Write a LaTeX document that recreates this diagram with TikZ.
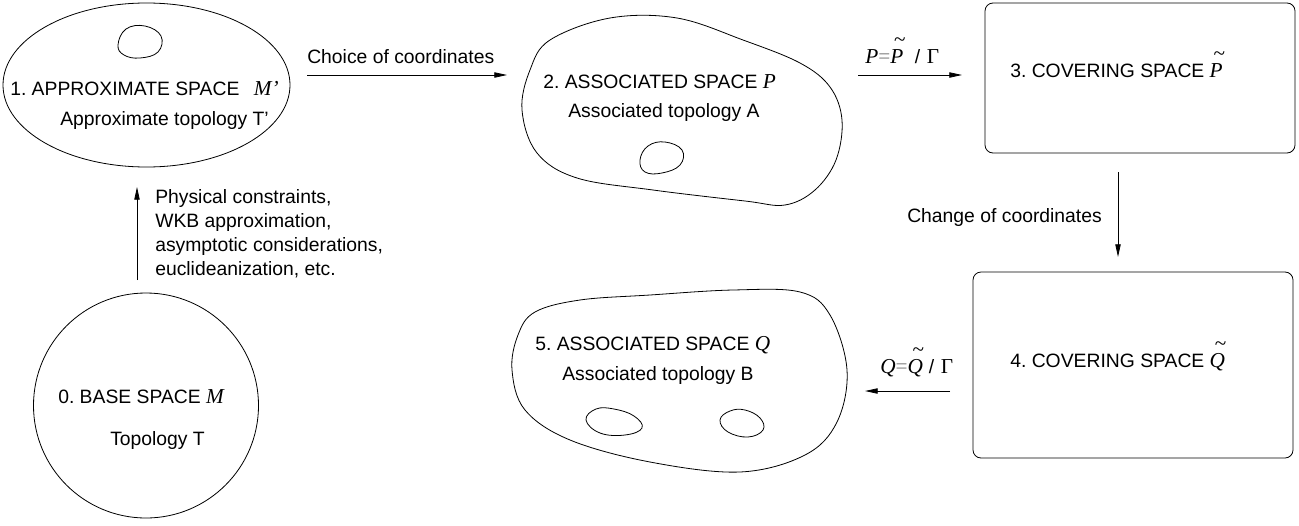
\documentclass[tikz,border=0pt]{standalone}
\usepackage{fontspec}
\setmainfont{Liberation Sans}
\newfontfamily\tms[Scale=1.1]{Liberation Serif}
\usetikzlibrary{arrows.meta,shapes.geometric}
\frenchspacing
\newcommand\mi[1]{{\tms\itshape #1}}
\newcommand\tld[1]{\leavevmode\setbox0\hbox{\mi{#1}}\rlap{\kern0.16em\hbox to\wd0{\hss\raisebox{0.85em}{\tms\char"7E}\hss}}\box0}
\tikzset{
  lbl/.style={anchor=base west, inner sep=0pt, font=\fontsize{14.5}{17}\selectfont},
  arr/.style={-{Triangle[length=9.5pt,width=4pt]}, line width=0.6pt},
  shp/.style={line width=0.6pt, draw=black},
  box/.style={shp, rectangle, rounded corners=6pt, inner sep=0pt},
}
\begin{document}
\begin{tikzpicture}[x=0.75pt, y=-0.75pt]
\useasboundingbox (0,0) rectangle (1299,525);

% shapes
\node[shp, ellipse, inner sep=0pt, minimum width=215.25pt, minimum height=123pt] (n1) at (146.5,85) {};
\node[shp, circle, inner sep=0pt, minimum size=168.75pt] (n0) at (146,405.5) {};
\node[box, minimum width=232.5pt, minimum height=112.5pt] (n3) at (1140,78) {};
\node[box, minimum width=240pt, minimum height=139.5pt] (n4) at (1133,365) {};
\draw[shp] plot[smooth cycle, tension=0.6] coordinates {(522,110) (530,70) (550,40) (610,18) (677,18) (743,40) (800,63) (830,87) (842,120) (836,160) (815,190) (785,205) (745,201) (653,190) (577,178) (537,153)};
\draw[shp] plot[smooth cycle, tension=0.6] coordinates {(512,370) (518,335) (535,312) (580,300) (650,295) (733,290) (800,292) (830,315) (847,370) (837,422) (805,455) (740,472) (650,462) (570,440) (525,410)};

% holes
\draw[shp] plot[smooth cycle, tension=0.7] coordinates {(118,45) (126,29) (145,26) (161,36) (158,52) (140,58) (124,55)};
\draw[shp] plot[smooth cycle, tension=0.7] coordinates {(640,160) (648,146) (665,142) (682,150) (680,165) (662,173) (645,172)};
\draw[shp] plot[smooth cycle, tension=0.7] coordinates {(586,420) (596,409) (614,409) (634,416) (642,428) (625,435) (600,433)};
\draw[shp] plot[smooth cycle, tension=0.7] coordinates {(720,420) (730,411) (745,410) (760,418) (763,430) (748,437) (728,432)};

% texts in shapes
\node[lbl] (t1a) at (10,95) {1. APPROXIMATE SPACE\hspace{0.75em}\mi{M’}};
\node[lbl] (t1b) at (60,125) {Approximate topology T’};
\node[lbl] (t0a) at (58,403) {0. BASE SPACE \mi{M}};
\node[lbl] (t0b) at (110,445) {Topology T};
\node[lbl] (t2a) at (543,88) {2. ASSOCIATED SPACE \mi{P}};
\node[lbl] (t2b) at (568,117) {Associated topology A};
\node[lbl] (t3) at (1010,77) {3. COVERING SPACE \tld{P}};
\node[lbl] (t4) at (1010,367) {4. COVERING SPACE \tld{Q}};
\node[lbl] (t5a) at (535,350) {5. ASSOCIATED SPACE \mi{Q}};
\node[lbl] (t5b) at (562,380) {Associated topology B};

% connectors
\coordinate (c1s) at (307,75);  \coordinate (c1e) at (507,75);
\coordinate (c2s) at (858,75);  \coordinate (c2e) at (962,75);
\coordinate (c3s) at (1118,172); \coordinate (c3e) at (1118,257);
\coordinate (c4s) at (950,391); \coordinate (c4e) at (865,391);
\coordinate (c0s) at (137,280); \coordinate (c0e) at (137,187);
\draw[arr] (c1s) -- (c1e);
\draw[arr] (c2s) -- (c2e);
\draw[arr] (c3s) -- (c3e);
\draw[arr] (c4s) -- (c4e);
\draw[arr] (c0s) -- (c0e);

% connector labels
\node[lbl] (l1) at (307,63) {Choice of coordinates};
\node[lbl] (l2) at (865,63) {\mi{P}{\color{gray}\tms=}\tld{P}\hspace{0.6em}/\hspace{0.35em}{\tms Γ}};
\node[lbl] (l3) at (907,222) {Change of coordinates};
\node[lbl] (l4) at (880,373) {\mi{Q}{\color{gray}\tms=}\tld{Q}\hspace{0.3em}/\hspace{0.35em}{\tms Γ}};
\node[lbl] (l0a) at (155,203) {Physical constraints,};
\node[lbl] (l0b) at (155,227) {WKB approximation,};
\node[lbl] (l0c) at (155,251) {asymptotic considerations,};
\node[lbl] (l0d) at (155,275) {euclideanization, etc.};
\end{tikzpicture}
\end{document}
